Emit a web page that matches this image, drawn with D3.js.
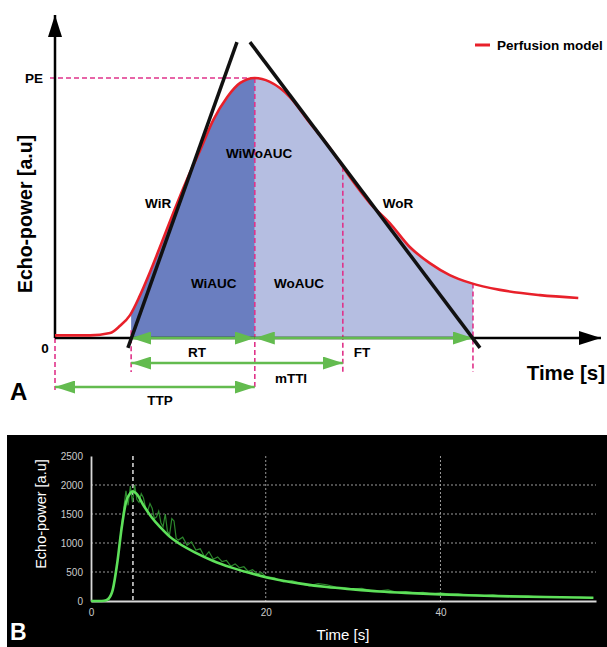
<!DOCTYPE html>
<html>
<head>
<meta charset="utf-8">
<script src="https://cdnjs.cloudflare.com/ajax/libs/d3/7.8.5/d3.min.js"></script>
<style>
  body { margin: 0; background: #fff; }
  text { font-family: "Liberation Sans", Arial, sans-serif; }
</style>
</head>
<body>
<script>
// panel A - perfusion model (arbitrary units, peak = 100)
var modelT = [0, 6.5, 10.2, 12.0, 13.9, 15.7, 17.6, 19.8, 21.9, 24.4, 26.9, 29.3, 31.9, 34.3, 37.0, 39.8, 43.5, 47.2, 50.9, 54.6, 58.3, 62.0, 65.7, 69.4, 73.1, 76.9, 82.4, 89.8, 96.9];
var modelV = [1.0, 1.0, 1.9, 4.6, 8.8, 16.2, 25.4, 36.9, 48.1, 60.8, 72.3, 83.8, 92.7, 98.1, 100, 98.5, 92.7, 82.7, 73.1, 61.9, 51.9, 44.2, 35.0, 28.8, 24.2, 21.2, 18.5, 16.5, 15.4];

// key times: start, rise start, peak (TTP), mTTI end, fall end
var keyT = [0, 14.1, 37.0, 53.3, 77.4];
var peakV = 100;

// tangent lines [t0, v0, t1, v1]
var wiR = [13.5, -3.8, 33.7, 113.8];
var woR = [36.1, 113.8, 78.7, -3.8];

// annotation labels [text, t, v]
var areaLabels = [["WiR", 19.1, 51.9], ["WoR", 63.5, 51.9], ["WiWoAUC", 37.8, 71.2], ["WiAUC", 29.4, 21.2], ["WoAUC", 45.2, 21.2]];

// panel B - measured echo power
var fitT = [0, 1, 1.5, 2, 2.5, 3, 3.5, 4, 4.5, 4.8, 5.2, 6, 7, 8, 9, 10, 12, 14, 16, 18, 20, 22, 24, 27, 30, 33, 36, 40, 44, 48, 52, 57.5];
var fitV = [0, 0, 5, 40, 200, 650, 1250, 1700, 1860, 1890, 1850, 1650, 1430, 1260, 1110, 1000, 830, 690, 580, 490, 410, 350, 300, 240, 200, 165, 140, 115, 95, 80, 68, 55];
var rawT = [0, 0.5, 1, 1.5, 2, 2.5, 3, 3.5, 4, 4.25, 4.5, 4.75, 5, 5.25, 5.5, 5.75, 6, 6.25, 6.5, 6.75, 7, 7.25, 7.5, 7.75, 8, 8.25, 8.5, 8.75, 9, 9.25, 9.5, 9.75, 10, 10.5, 11, 11.5, 12, 12.5, 13, 13.5, 14, 14.5, 15, 15.5, 16, 16.5, 17, 17.5, 18, 18.5, 19, 19.5, 20, 21, 22, 23, 24, 25, 26, 27, 28, 29, 30, 31, 32, 33, 34, 35, 36, 37, 38, 39, 40, 41, 42, 43, 44, 45, 46, 47, 48, 49, 50, 51, 52, 53, 54, 55, 56, 57.5];
var rawV = [0, 0, 0, 0, 10, 180, 620, 1300, 1900, 1650, 1980, 1700, 2000, 1750, 1700, 1850, 1780, 1600, 1560, 1680, 1600, 1420, 1450, 1550, 1350, 1280, 1500, 1200, 1150, 1420, 1380, 1080, 1050, 1100, 960, 1020, 880, 900, 760, 850, 720, 760, 680, 700, 600, 640, 570, 590, 510, 540, 470, 490, 420, 400, 330, 350, 300, 260, 300, 280, 240, 230, 210, 220, 180, 175, 190, 150, 160, 140, 150, 120, 140, 120, 125, 100, 110, 95, 105, 85, 90, 80, 85, 70, 75, 65, 70, 60, 62, 55];
var yTicksB = [0, 500, 1000, 1500, 2000, 2500];
var xTicksB = [0, 20, 40];
var peakTB = 4.8;

var w = 607, h = 647;

var svg = d3.select("body").append("svg").attr("width", w).attr("height", h);
var defs = svg.append("defs");

// ---------------- panel A ----------------
var xA = d3.scaleLinear().domain([0, 100]).range([55, 595]);
var yA = d3.scaleLinear().domain([0, 100]).range([338, 78]);

var model = modelT.map(function (t, i) { return [t, modelV[i]]; });

var pink = "#e0338a", green = "#63bb4f", red = "#e8202a";

// arrow markers
function marker(id, color, len, wid) {
  var m = defs.append("marker").attr("id", id)
    .attr("viewBox", "0 0 " + len + " " + wid)
    .attr("refX", len).attr("refY", wid / 2)
    .attr("markerWidth", len).attr("markerHeight", wid)
    .attr("markerUnits", "userSpaceOnUse")
    .attr("orient", "auto-start-reverse");
  m.append("path").attr("d", "M0,0L" + len + "," + (wid / 2) + "L0," + wid + "Z").attr("fill", color);
}
marker("ga", green, 20, 13);
marker("ba", "#000", 22, 14);

// clip regions for the two AUC fills
defs.append("clipPath").attr("id", "clipWi").append("rect")
  .attr("x", xA(keyT[1])).attr("y", 0).attr("width", xA(keyT[2]) - xA(keyT[1])).attr("height", yA(0));
defs.append("clipPath").attr("id", "clipWo").append("rect")
  .attr("x", xA(keyT[2])).attr("y", 0).attr("width", xA(keyT[4]) - xA(keyT[2])).attr("height", yA(0));

var area = d3.area().x(function (d) { return xA(d[0]); }).y0(yA(0)).y1(function (d) { return yA(d[1]); }).curve(d3.curveMonotoneX);
svg.append("path").datum(model).attr("d", area).attr("fill", "#6a7ec0").attr("clip-path", "url(#clipWi)");
svg.append("path").datum(model).attr("d", area).attr("fill", "#b5bee1").attr("clip-path", "url(#clipWo)");

function modelAt(t) {
  var i = d3.bisectLeft(modelT, t);
  if (i <= 0) return modelV[0];
  var a = i - 1, f = (t - modelT[a]) / (modelT[i] - modelT[a]);
  return modelV[a] + f * (modelV[i] - modelV[a]);
}

// dashed pink guides
var dash = svg.append("g").attr("stroke", pink).attr("stroke-width", 1.6).attr("stroke-dasharray", "5,3").attr("fill", "none");
dash.append("line").attr("x1", xA(0) - 5).attr("x2", xA(keyT[2])).attr("y1", yA(peakV)).attr("y2", yA(peakV));
var guideEnds = [390, 372, 390, 372, 372];
keyT.forEach(function (t, i) {
  var top = i == 0 ? yA(0) : (i == 1 ? yA(3) : yA(modelAt(t)));
  dash.append("line").attr("x1", xA(t)).attr("x2", xA(t)).attr("y1", top).attr("y2", guideEnds[i]);
});

// axes with arrows
svg.append("line").attr("x1", xA(0)).attr("y1", yA(0)).attr("x2", xA(0)).attr("y2", 15)
  .attr("stroke", "#000").attr("stroke-width", 2.5).attr("marker-end", "url(#ba)");
svg.append("line").attr("x1", xA(0)).attr("y1", yA(0)).attr("x2", 601).attr("y2", yA(0))
  .attr("stroke", "#000").attr("stroke-width", 2.5).attr("marker-end", "url(#ba)");

// green interval arrows [t0, t1, y]
var spans = [[keyT[1], keyT[2], 338], [keyT[2], keyT[4], 338], [keyT[1], keyT[3], 363], [keyT[0], keyT[2], 387]];
svg.selectAll(".span").data(spans).enter().append("line")
  .attr("class", "span")
  .attr("x1", function (d) { return xA(d[0]); })
  .attr("x2", function (d) { return xA(d[1]); })
  .attr("y1", function (d) { return d[2]; })
  .attr("y2", function (d) { return d[2]; })
  .attr("stroke", green).attr("stroke-width", 2.5)
  .attr("marker-start", "url(#ga)").attr("marker-end", "url(#ga)");

// model curve
svg.append("path").datum(model)
  .attr("d", d3.line().x(function (d) { return xA(d[0]); }).y(function (d) { return yA(d[1]); }).curve(d3.curveMonotoneX))
  .attr("fill", "none").attr("stroke", red).attr("stroke-width", 2.6);

// tangents
[wiR, woR].forEach(function (l) {
  svg.append("line").attr("x1", xA(l[0])).attr("y1", yA(l[1])).attr("x2", xA(l[2])).attr("y2", yA(l[3]))
    .attr("stroke", "#111").attr("stroke-width", 3.5);
});

// labels
svg.selectAll(".al").data(areaLabels).enter().append("text")
  .attr("x", function (d) { return xA(d[1]); })
  .attr("y", function (d) { return yA(d[2]) + 5; })
  .attr("text-anchor", "middle").attr("font-size", 13.5).attr("font-weight", "bold")
  .text(function (d) { return d[0]; });

var spanLabels = [["RT", 197, 357], ["FT", 362, 357], ["mTTI", 291, 383], ["TTP", 160, 405]];
svg.selectAll(".sl").data(spanLabels).enter().append("text")
  .attr("x", function (d) { return d[1]; }).attr("y", function (d) { return d[2]; })
  .attr("text-anchor", "middle").attr("font-size", 13.5).attr("font-weight", "bold")
  .text(function (d) { return d[0]; });

svg.append("text").attr("x", 43).attr("y", yA(peakV) + 5).attr("text-anchor", "end")
  .attr("font-size", 13.5).attr("font-weight", "bold").text("PE");
svg.append("text").attr("x", 45).attr("y", 353).attr("text-anchor", "middle")
  .attr("font-size", 13.5).attr("font-weight", "bold").text("0");
svg.append("text").attr("x", 605).attr("y", 380).attr("text-anchor", "end")
  .attr("font-size", 20.5).attr("font-weight", "bold").text("Time [s]");
svg.append("text").attr("transform", "translate(32,214) rotate(-90)").attr("text-anchor", "middle")
  .attr("font-size", 19.5).attr("font-weight", "bold").text("Echo-power [a.u]");
svg.append("text").attr("x", 10).attr("y", 400).attr("font-size", 24).attr("font-weight", "bold").text("A");

// legend
svg.append("line").attr("x1", 475).attr("x2", 490).attr("y1", 45).attr("y2", 45).attr("stroke", red).attr("stroke-width", 3);
svg.append("text").attr("x", 497).attr("y", 50).attr("font-size", 13.5).attr("font-weight", "bold").text("Perfusion model");

// ---------------- panel B ----------------
svg.append("rect").attr("x", 7).attr("y", 435).attr("width", w - 7).attr("height", h - 435).attr("fill", "#000");

var xB = d3.scaleLinear().domain([0, 57.8]).range([91, 596]);
var yB = d3.scaleLinear().domain([0, 2500]).range([601, 456]);

var grid = svg.append("g").attr("stroke", "#9a9a9a").attr("stroke-width", 1).attr("stroke-dasharray", "2,2");
yTicksB.slice(1, 5).forEach(function (v) {
  grid.append("line").attr("x1", xB(0)).attr("x2", xB(57.8)).attr("y1", yB(v)).attr("y2", yB(v));
});
xTicksB.slice(1).forEach(function (t) {
  grid.append("line").attr("x1", xB(t)).attr("x2", xB(t)).attr("y1", yB(2500)).attr("y2", yB(0));
});
svg.append("line").attr("x1", xB(peakTB)).attr("x2", xB(peakTB)).attr("y1", yB(2500)).attr("y2", yB(0))
  .attr("stroke", "#bbb").attr("stroke-width", 1.8).attr("stroke-dasharray", "4,3");

var yAxisB = svg.append("g").attr("transform", "translate(" + xB(0) + ",0)")
  .call(d3.axisLeft(yB).tickValues(yTicksB).tickFormat(d3.format("d")).tickSize(0).tickPadding(8));
var xAxisB = svg.append("g").attr("transform", "translate(0," + yB(0) + ")")
  .call(d3.axisBottom(xB).tickValues(xTicksB).tickFormat(d3.format("d")).tickSize(0).tickPadding(8));
[yAxisB, xAxisB].forEach(function (g) {
  g.select(".domain").attr("stroke", "#d8d8d8").attr("stroke-width", 1.8);
  g.selectAll("text").attr("fill", "#ccc").attr("font-size", 10).attr("font-family", "'Liberation Sans Narrow', 'Liberation Sans', sans-serif");
});

var lineB = d3.line().x(function (d) { return xB(d[0]); }).y(function (d) { return yB(d[1]); });
svg.append("path").datum(rawT.map(function (t, i) { return [t, rawV[i]]; }))
  .attr("d", lineB).attr("fill", "none").attr("stroke", "#2c862c").attr("stroke-width", 1.2);
svg.append("path").datum(fitT.map(function (t, i) { return [t, fitV[i]]; }))
  .attr("d", lineB.curve(d3.curveMonotoneX)).attr("fill", "none").attr("stroke", "#5ee05a").attr("stroke-width", 2.6);

svg.append("text").attr("transform", "translate(46,514) rotate(-90)").attr("text-anchor", "middle")
  .attr("fill", "#fff").attr("font-size", 14.5).text("Echo-power [a.u]");
svg.append("text").attr("x", 343).attr("y", 640).attr("text-anchor", "middle")
  .attr("fill", "#fff").attr("font-size", 15).text("Time [s]");
svg.append("text").attr("x", 10).attr("y", 640).attr("fill", "#fff").attr("font-size", 23).attr("font-weight", "bold").text("B");
</script>
</body>
</html>
